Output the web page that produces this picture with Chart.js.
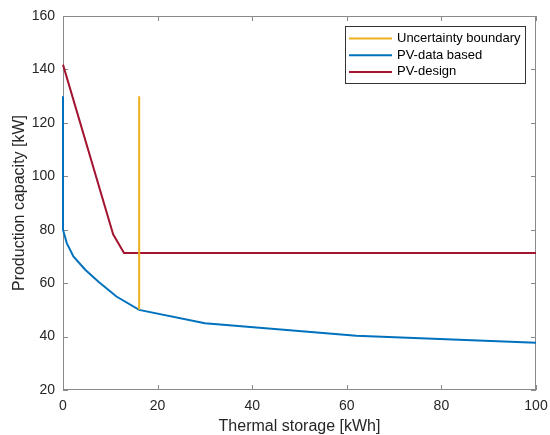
<!DOCTYPE html>
<html>
<head>
<meta charset="utf-8">
<script src="https://cdn.jsdelivr.net/npm/chart.js@4/dist/chart.umd.min.js"></script>
<style>
  html, body { margin: 0; padding: 0; background: #fff; }
  #wrap { width: 550px; height: 435px; }
</style>
</head>
<body>
<div id="wrap"><canvas id="capChart" width="550" height="435"></canvas></div>
<script>
// storage [kWh] vs capacity [kW]
const boundaryX = [16.1, 16.1];
const boundaryY = [130, 50];

const dataX = [0, 0, 0.8, 2.2, 4.7, 7.5, 11.3, 16.1, 30, 62, 100];
const dataY = [130, 80, 75, 70, 65, 60.5, 55, 50, 45, 40.3, 37.7];

const designX = [0, 10.6, 12.9, 100];
const designY = [141.8, 78.3, 71.3, 71.3];

const xTicks = [0, 20, 40, 60, 80, 100];
const yTicks = [20, 40, 60, 80, 100, 120, 140, 160];

const FONT = 'Liberation Sans, Arial, Helvetica, sans-serif';
const AXIS_GREY = '#8a8a8a';

function toPoints(xs, ys) {
    return xs.map((x, i) => ({ x: x, y: ys[i] }));
}

// --- Box, inward ticks and legend drawn MATLAB style ---
const axesBox = {
    id: 'axesBox',
    beforeDatasetsDraw(chart) {
        const { ctx, chartArea: a, scales } = chart;
        const tl = 5;
        ctx.save();
        ctx.strokeStyle = AXIS_GREY;
        ctx.lineWidth = 1;
        ctx.strokeRect(a.left + 0.5, a.top + 0.5, a.right - a.left - 1, a.bottom - a.top - 1);
        ctx.beginPath();
        xTicks.forEach(v => {
            const px = Math.round(scales.x.getPixelForValue(v)) + 0.5;
            ctx.moveTo(px, a.bottom); ctx.lineTo(px, a.bottom - tl);
            ctx.moveTo(px, a.top); ctx.lineTo(px, a.top + tl);
        });
        yTicks.forEach(v => {
            const py = Math.round(scales.y.getPixelForValue(v)) + 0.5;
            ctx.moveTo(a.left, py); ctx.lineTo(a.left + tl, py);
            ctx.moveTo(a.right, py); ctx.lineTo(a.right - tl, py);
        });
        ctx.stroke();
        ctx.restore();
    },
    afterDatasetsDraw(chart) {
        const { ctx } = chart;
        ctx.save();
        // legend in the upper right corner
        const bx = 345, by = 26, bw = 180, bh = 57;
        ctx.fillStyle = '#fff';
        ctx.fillRect(bx, by, bw, bh);
        ctx.strokeStyle = '#333';
        ctx.lineWidth = 1;
        ctx.strokeRect(bx + 0.5, by + 0.5, bw, bh);
        ctx.font = '13px ' + FONT;
        ctx.textBaseline = 'middle';
        chart.data.datasets.forEach((ds, i) => {
            const y = by + 12.5 + i * 16.7;
            ctx.strokeStyle = ds.borderColor;
            ctx.lineWidth = 2;
            ctx.beginPath();
            ctx.moveTo(bx + 4, y); ctx.lineTo(bx + 47, y);
            ctx.stroke();
            ctx.fillStyle = '#000';
            ctx.fillText(ds.label, bx + 52, y);
        });
        ctx.restore();
    }
};

const axisCommon = {
    type: 'linear',
    grid: { display: false, drawTicks: false },
    border: { display: false },
    ticks: {
        color: '#262626',
        font: { family: FONT, size: 14 }
    },
    title: {
        display: true,
        color: '#262626',
        font: { family: FONT, size: 16 }
    }
};

new Chart(document.getElementById('capChart'), {
    type: 'scatter',
    data: {
        datasets: [
            { label: 'Uncertainty boundary', data: toPoints(boundaryX, boundaryY), borderColor: '#EDB120' },
            { label: 'PV-data based', data: toPoints(dataX, dataY), borderColor: '#0072BD' },
            { label: 'PV-design', data: toPoints(designX, designY), borderColor: '#A2142F' }
        ].map(ds => Object.assign(ds, { showLine: true, borderWidth: 2, pointRadius: 0, tension: 0, fill: false, clip: 3 }))
    },
    options: {
        responsive: false,
        animation: false,
        layout: { padding: { top: 16, right: 14, left: 0, bottom: 0 } },
        plugins: { legend: { display: false }, tooltip: { enabled: false } },
        scales: {
            x: {
                ...axisCommon,
                min: 0, max: 100,
                ticks: { ...axisCommon.ticks, padding: 8 },
                afterBuildTicks: s => { s.ticks = xTicks.map(v => ({ value: v })); },
                // fixed axis band; end labels may overhang the plot
                afterFit: s => { s.height = 45; s.paddingLeft = 0; s.paddingRight = 0; },
                title: { ...axisCommon.title, text: 'Thermal storage [kWh]', padding: { top: 0, bottom: -1 } }
            },
            y: {
                ...axisCommon,
                min: 20, max: 160,
                ticks: { ...axisCommon.ticks, padding: 8 },
                afterBuildTicks: s => { s.ticks = yTicks.map(v => ({ value: v })); },
                afterFit: s => { s.width = 63; s.paddingTop = 0; s.paddingBottom = 0; },
                title: { ...axisCommon.title, text: 'Production capacity [kW]', padding: { top: 10, bottom: 0 } }
            }
        }
    },
    plugins: [axesBox]
});
</script>
</body>
</html>
